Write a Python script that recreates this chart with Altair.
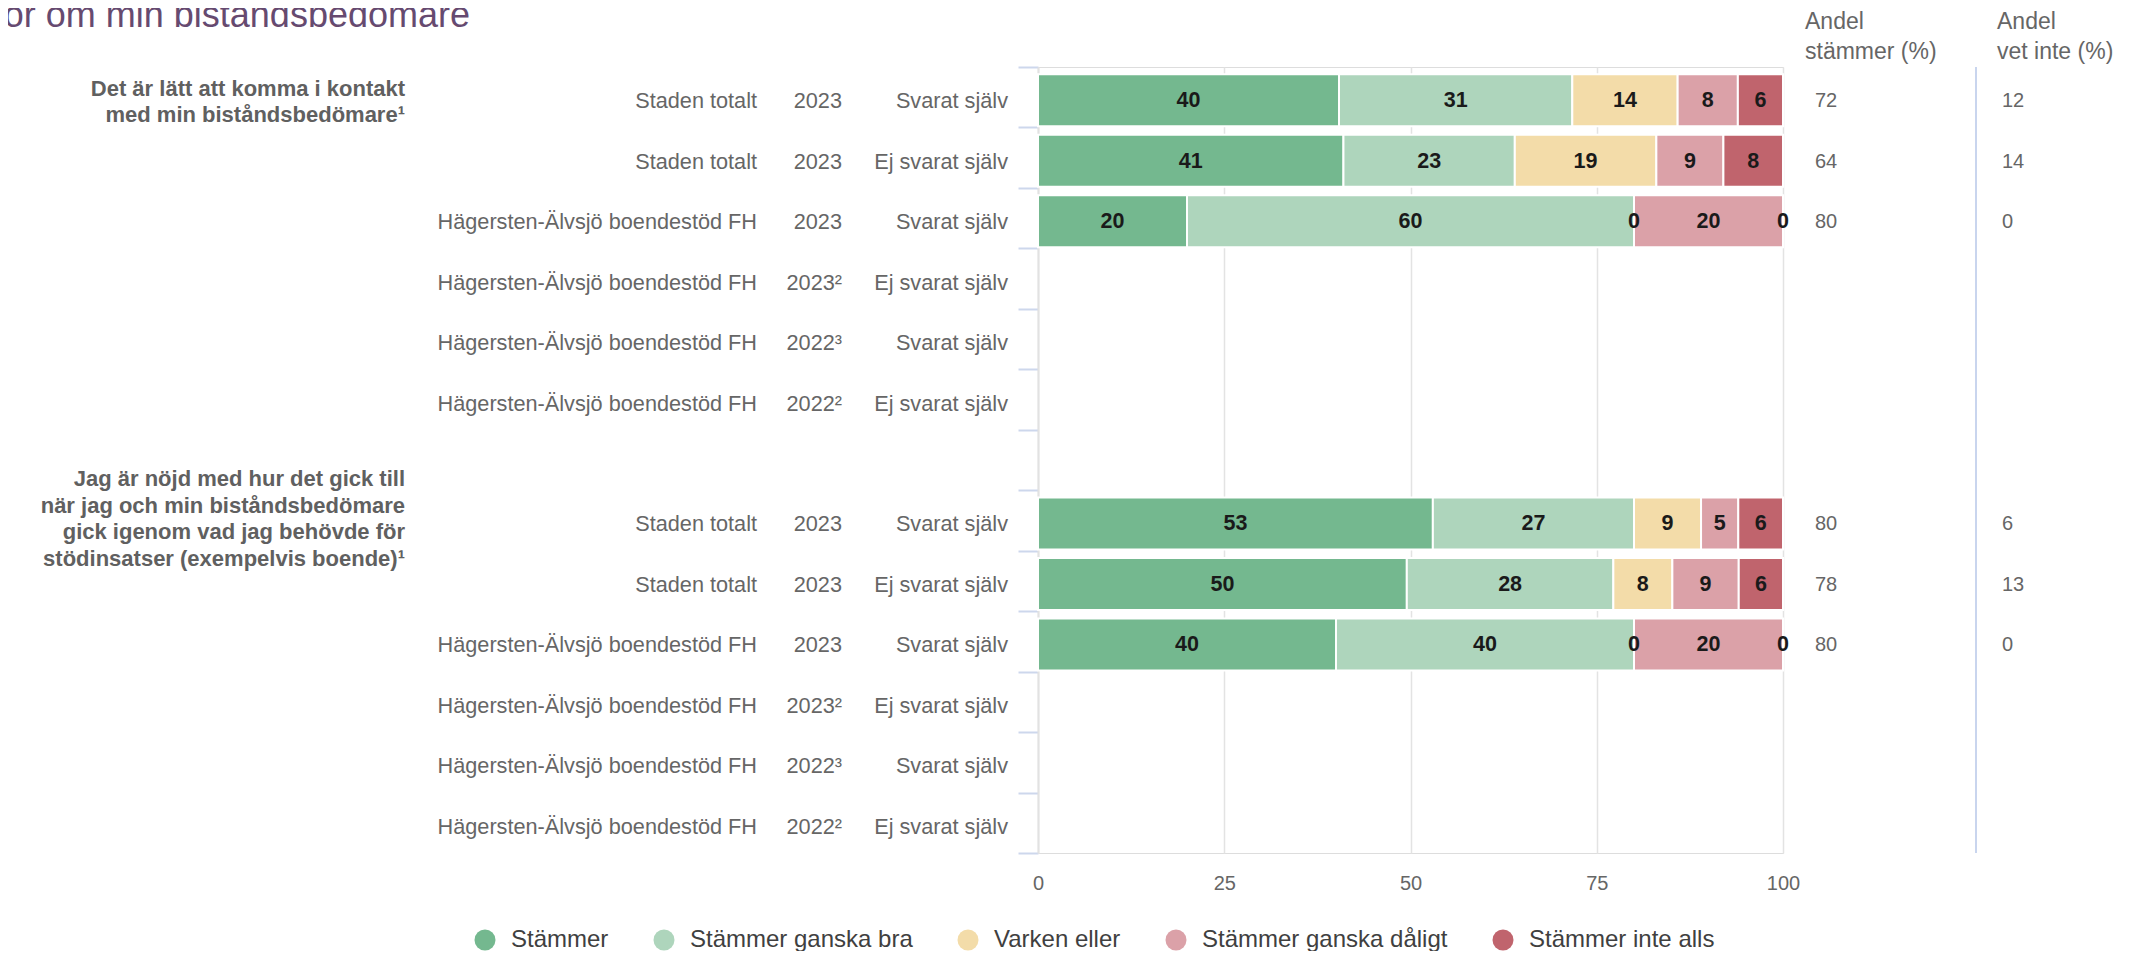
import altair as alt
import pandas as pd

FONT = "Liberation Sans, Arial, sans-serif"

title_text = "Frågor om min biståndsbedömare"

question_lines = [
    ["Det är lätt att komma i kontakt", "med min biståndsbedömare¹"],
    ["Jag är nöjd med hur det gick till", "när jag och min biståndsbedömare",
     "gick igenom vad jag behövde för", "stödinsatser (exempelvis boende)¹"],
]

units = ["Staden totalt", "Staden totalt", "Hägersten-Älvsjö boendestöd FH",
         "Hägersten-Älvsjö boendestöd FH", "Hägersten-Älvsjö boendestöd FH",
         "Hägersten-Älvsjö boendestöd FH"]
years = ["2023", "2023", "2023", "2023²", "2022³", "2022²"]
respondents = ["Svarat själv", "Ej svarat själv", "Svarat själv",
               "Ej svarat själv", "Svarat själv", "Ej svarat själv"]

categories = ["Stämmer", "Stämmer ganska bra", "Varken eller",
              "Stämmer ganska dåligt", "Stämmer inte alls"]
colors = ["#74b88f", "#aed5bc", "#f3dca9", "#dba1a8", "#c0646d"]

# question 1 (rows with data)
q1_stammer = [40, 41, 20]
q1_ganska_bra = [31, 23, 60]
q1_varken = [14, 19, 0]
q1_ganska_daligt = [8, 9, 20]
q1_inte_alls = [6, 8, 0]
q1_andel_stammer = [72, 64, 80]
q1_andel_vet_inte = [12, 14, 0]

# question 2 (rows with data)
q2_stammer = [53, 50, 40]
q2_ganska_bra = [27, 28, 40]
q2_varken = [9, 8, 0]
q2_ganska_daligt = [5, 9, 20]
q2_inte_alls = [6, 6, 0]
q2_andel_stammer = [80, 78, 80]
q2_andel_vet_inte = [6, 13, 0]

header_stammer = "Andel\nstämmer (%)"
header_vet_inte = "Andel\nvet inte (%)"

# ---------------------------------------------------------------- tables
q_series = [
    [q1_stammer, q1_ganska_bra, q1_varken, q1_ganska_daligt, q1_inte_alls],
    [q2_stammer, q2_ganska_bra, q2_varken, q2_ganska_daligt, q2_inte_alls],
]
q_andel = [q1_andel_stammer, q2_andel_stammer]
q_vet = [q1_andel_vet_inte, q2_andel_vet_inte]

row_ids = [f"r{i:02d}" for i in range(13)]

rows, segs, groups = [], [], []
for qi in range(2):
    groups.append({"row": row_ids[qi * 7], "q": qi, "text": "\n".join(question_lines[qi])})
    for ri in range(6):
        rid = row_ids[qi * 7 + ri]
        has = ri < len(q_andel[qi])
        rows.append({
            "row": rid, "unit": units[ri], "year": years[ri], "resp": respondents[ri],
            "andel": str(q_andel[qi][ri]) if has else "",
            "vet": str(q_vet[qi][ri]) if has else "",
        })
        if has:
            vals = [s[ri] for s in q_series[qi]]
            tot = sum(vals)
            cum = 0.0
            for cat, v in zip(categories, vals):
                start = cum / tot * 100
                cum += v
                end = cum / tot * 100
                segs.append({"row": rid, "category": cat, "value": v,
                             "start": start, "end": end, "mid": (start + end) / 2})

rows_df = pd.DataFrame(rows)
seg_df = pd.DataFrame(segs)
grp_df = pd.DataFrame(groups)
one = pd.DataFrame({"t": [title_text]})

W, H = 745, 786

y_enc = alt.Y(
    "row:N",
    scale=alt.Scale(domain=row_ids, paddingInner=0, paddingOuter=0),
    axis=alt.Axis(labels=False, title=None, tickBand="extent", tickSize=20,
                  tickColor="#cdd7ec", tickWidth=2, domainColor="#e2e2e2",
                  domainWidth=2, grid=False),
)
x_scale = alt.Scale(domain=[0, 100], nice=False)

bars = alt.Chart(seg_df).mark_bar(
    height={"band": 0.86}, yOffset=3, stroke="white", strokeWidth=2
).encode(
    x=alt.X("start:Q", scale=x_scale,
            axis=alt.Axis(values=[0, 25, 50, 75, 100], title=None, domain=False,
                          ticks=False, labelFontSize=20, labelColor="#666666",
                          labelPadding=20, labelFlush=False, grid=True,
                          gridColor="#e3e3e3", gridWidth=1.5, labelFont=FONT)),
    x2="end:Q",
    y=y_enc,
    color=alt.Color(
        "category:N",
        scale=alt.Scale(domain=categories, range=colors),
        legend=alt.Legend(
            title=None, orient="none", direction="horizontal",
            legendX=-565, legendY=861, symbolType="circle", symbolSize=440,
            symbolStrokeWidth=0, labelFontSize=24, labelColor="#404040",
            labelFont=FONT, labelOffset=14, columnPadding=43, padding=0,
            labelLimit=600,
        ),
    ),
)

bar_text = alt.Chart(seg_df).mark_text(
    fontWeight="bold", fontSize=21.5, color="#1a1a1a", font=FONT,
    baseline="middle", dy=4
).encode(x=alt.X("mid:Q", scale=x_scale), y=y_enc, text="value:Q")


def col_text(field, xpos, align="right", size=21.7, color="#666666"):
    return alt.Chart(rows_df).mark_text(
        align=align, baseline="middle", fontSize=size, color=color, font=FONT, dy=4
    ).encode(x=alt.value(xpos), y=y_enc, text=f"{field}:N")


unit_t = col_text("unit", -281)
year_t = col_text("year", -196)
resp_t = col_text("resp", -30)
andel_t = col_text("andel", 777, align="left", size=20)
vet_t = col_text("vet", 964, align="left", size=20)


def group_text(qi, dy):
    return alt.Chart(grp_df).transform_filter(alt.datum.q == qi).mark_text(
        align="right", baseline="middle", fontSize=22, fontWeight="bold",
        color="#606060", font=FONT, lineBreak="\n", lineHeight=26.5, dy=dy
    ).encode(x=alt.value(-633), y=y_enc, text="text:N")


group1_t = group_text(0, -8.5)
group2_t = group_text(1, -41)


def header(txt, xpos):
    return alt.Chart(pd.DataFrame({"t": [txt]})).mark_text(
        align="left", baseline="middle", fontSize=23, color="#666666", font=FONT,
        lineBreak="\n", lineHeight=30
    ).encode(x=alt.value(xpos), y=alt.value(-45.5), text="t:N")


h1 = header(header_stammer, 767)
h2 = header(header_vet_inte, 959)

sep = alt.Chart(one).mark_rule(color="#c9d5ee", strokeWidth=2).encode(
    x=alt.value(938), y=alt.value(0), y2=alt.value(H)
)

title_t = alt.Chart(one).mark_text(
    align="right", baseline="alphabetic", fontSize=36, color="#664a70", font=FONT
).encode(x=alt.value(-568), y=alt.value(-40), text="t:N")

chart = alt.layer(
    bars, bar_text, unit_t, year_t, resp_t, andel_t, vet_t,
    group1_t, group2_t, h1, h2, sep, title_t
).properties(
    width=W, height=H,
    autosize=alt.AutoSizeParams(type="none"),
    padding={"left": 1030, "top": 59, "right": 343, "bottom": 98},
).configure_view(stroke=None).configure(font=FONT)

chart.save("out.html", embed_options={"renderer": "svg", "actions": False})
